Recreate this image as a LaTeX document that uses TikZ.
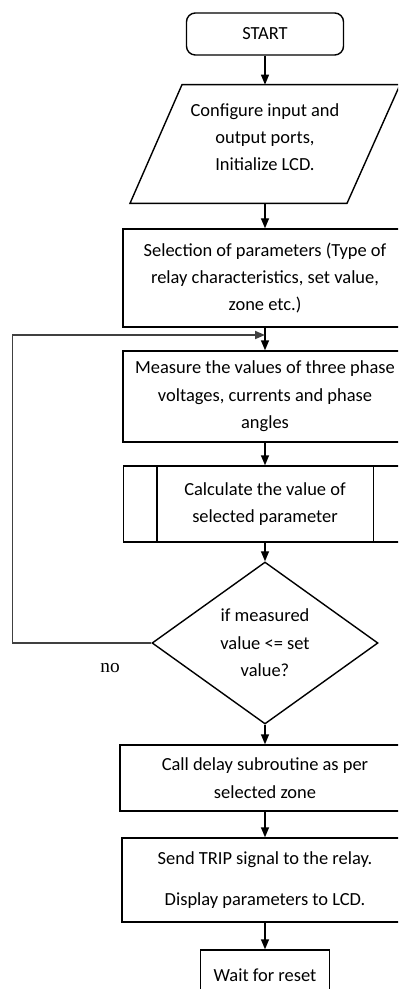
\documentclass[tikz,border=0pt]{standalone}
\usepackage{fontspec}
\setmainfont{Carlito}
\newfontfamily\labelfont{Liberation Serif}
\usetikzlibrary{arrows.meta,positioning,shapes.geometric,calc}
\tikzset{
  base/.style={draw=black,line width=0.8pt,align=center,inner sep=2pt,
               font=\fontsize{10.5}{15.6}\selectfont},
  startbox/.style={base,rounded corners=5pt,minimum width=3.14cm,minimum height=0.84cm},
  iotext/.style={align=center,inner sep=0pt,minimum height=2.36cm,
               font=\fontsize{10.5}{15.6}\selectfont},
  procbox/.style={base},
  subbox/.style={base,minimum width=5.66cm,minimum height=1.52cm},
  decbox/.style={base,diamond,aspect=1.4,inner sep=0pt,minimum width=4.52cm,
               minimum height=3.24cm},
  fl/.style={-{Triangle[length=2mm,width=1.6mm]},line width=0.8pt,draw=black},
  loopline/.style={-{Triangle[length=2mm,width=1.6mm]},line width=1pt,draw=black!75},
  note/.style={font=\labelfont\fontsize{11}{13}\selectfont}
}
\begin{document}
\begin{tikzpicture}
  \path[use as bounding box,clip] (0,0) rectangle (7.96,-19.78);
  \node[startbox] (start) at (5.30,-0.68) {START};
  \node[iotext] (io) at (5.30,-2.88) {Configure input and\\output ports,\\Initialize LCD.\\[-0.27cm]};
  \draw[line width=0.8pt] ($(io.north)+(-1.66,0)$) -- ($(io.north)+(2.70,0)$)
    -- ($(io.south)+(1.64,0)$) -- ($(io.south)+(-2.70,0)$) -- cycle;
  \node[procbox,minimum width=5.68cm,minimum height=1.96cm] (sel) at (5.30,-5.56)
    {Selection of parameters (Type of\\relay characteristics, set value,\\zone etc.)};
  \node[procbox,minimum width=5.68cm,minimum height=1.82cm] (meas) at (5.30,-7.93)
    {Measure the values of three phase\\voltages, currents and phase\\angles};
  \node[subbox] (calc) at (5.30,-10.08) {Calculate the value of\\selected parameter};
  \draw[line width=0.8pt] ([xshift=0.68cm]calc.north west) -- ([xshift=0.68cm]calc.south west)
    ([xshift=-0.68cm]calc.north east) -- ([xshift=-0.68cm]calc.south east);
  \node[decbox] (dec) at (5.30,-12.86) {if measured\\value <= set\\value?};
  \node[procbox,minimum width=5.80cm,minimum height=1.32cm] (delay) at (5.30,-15.56)
    {Call delay subroutine as per\\selected zone};
  \node[procbox,minimum width=5.72cm,minimum height=1.68cm] (trip) at (5.30,-17.60)
    {Send TRIP signal to the relay.\\[0.28cm]Display parameters to LCD.};
  \node[procbox,minimum width=2.58cm,minimum height=1.0cm] (wait) at (5.30,-19.50) {Wait for reset};
  \coordinate (merge) at (5.30,-6.70);
  \coordinate (lp) at (0.25,-6.70);
  % main flow
  \draw[fl] (start) -- (io);
  \draw[fl] (io) -- (sel);
  \draw[fl] (sel) -- (meas);
  \draw[fl] (meas) -- (calc);
  \draw[fl] (calc) -- (dec);
  \draw[fl] (dec) -- (delay);
  \draw[fl] (delay) -- (trip);
  \draw[fl] (trip) -- (wait);
  % back to measuring
  \draw[loopline] (dec.west) -| (lp) -- (merge);
  \node[note] (no) at (2.20,-13.36) {no};
\end{tikzpicture}
\end{document}
